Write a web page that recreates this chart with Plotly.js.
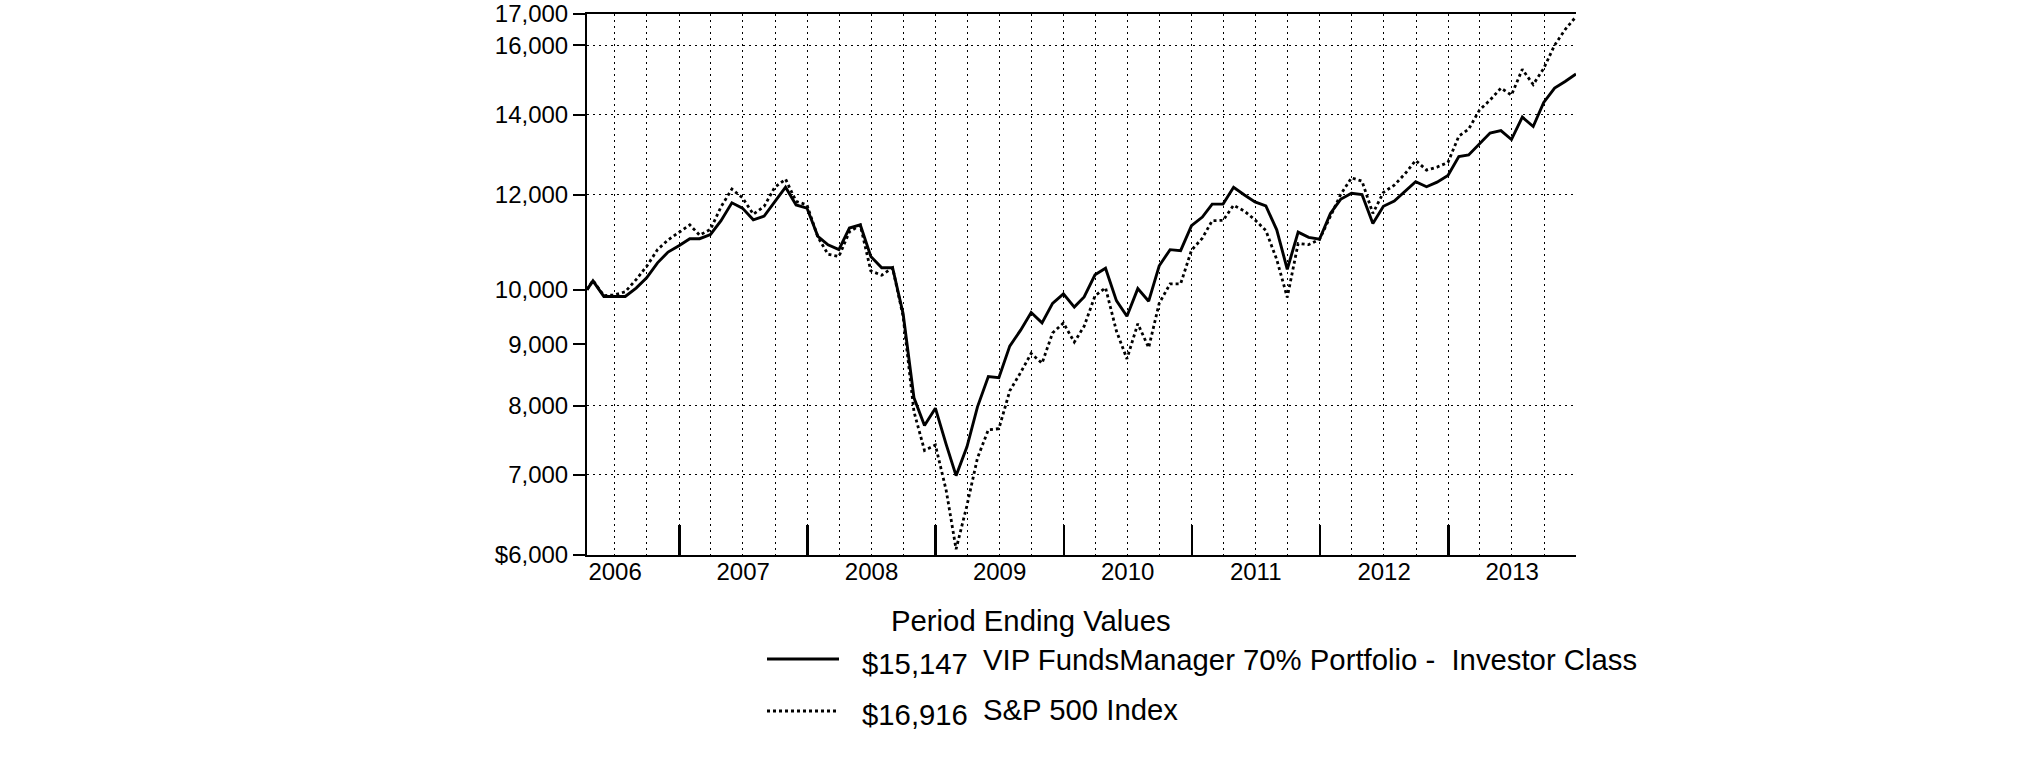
<!DOCTYPE html>
<html><head><meta charset="utf-8">
<script src="https://cdn.plot.ly/plotly-3.0.1.min.js"></script>
<style>html,body{margin:0;padding:0;background:#fff;} #chart{width:2025px;height:761px;}</style>
</head><body><div id="chart"></div>
<script>
// Period end dates (inception 2006-04-13, then month ends)
const dates = [
 '2006-04-13','2006-04-30','2006-05-31','2006-06-30','2006-07-31','2006-08-31','2006-09-30','2006-10-31','2006-11-30','2006-12-31',
 '2007-01-31','2007-02-28','2007-03-31','2007-04-30','2007-05-31','2007-06-30','2007-07-31','2007-08-31','2007-09-30','2007-10-31','2007-11-30','2007-12-31',
 '2008-01-31','2008-02-29','2008-03-31','2008-04-30','2008-05-31','2008-06-30','2008-07-31','2008-08-31','2008-09-30','2008-10-31','2008-11-30','2008-12-31',
 '2009-01-31','2009-02-28','2009-03-31','2009-04-30','2009-05-31','2009-06-30','2009-07-31','2009-08-31','2009-09-30','2009-10-31','2009-11-30','2009-12-31',
 '2010-01-31','2010-02-28','2010-03-31','2010-04-30','2010-05-31','2010-06-30','2010-07-31','2010-08-31','2010-09-30','2010-10-31','2010-11-30','2010-12-31',
 '2011-01-31','2011-02-28','2011-03-31','2011-04-30','2011-05-31','2011-06-30','2011-07-31','2011-08-31','2011-09-30','2011-10-31','2011-11-30','2011-12-31',
 '2012-01-31','2012-02-29','2012-03-31','2012-04-30','2012-05-31','2012-06-30','2012-07-31','2012-08-31','2012-09-30','2012-10-31','2012-11-30','2012-12-31',
 '2013-01-31','2013-02-28','2013-03-31','2013-04-30','2013-05-31','2013-06-30','2013-07-31','2013-08-31','2013-09-30','2013-10-31','2013-11-30','2013-12-31'
];
// VIP FundsManager 70% Portfolio - Investor Class
const fundValues = [
 10000, 10170, 9870, 9870, 9870, 10030, 10230, 10530, 10750, 10880,
 11030, 11030, 11120, 11420, 11820, 11700, 11440, 11520, 11850, 12180, 11770, 11700,
 11080, 10900, 10800, 11260, 11330, 10660, 10430, 10430, 9550, 8120, 7700, 7960,
 7420, 6990, 7390, 7980, 8460, 8440, 8970, 9250, 9570, 9380, 9740, 9920,
 9670, 9860, 10290, 10420, 9790, 9500, 10020, 9780, 10470, 10800, 10780, 11310,
 11500, 11790, 11790, 12180, 12000, 11840, 11750, 11220, 10400, 11170, 11060, 11020,
 11580, 11900, 12040, 12010, 11360, 11740, 11860, 12080, 12310, 12190, 12300, 12460,
 12920, 12960, 13240, 13520, 13580, 13350, 13940, 13690, 14340, 14740, 14930, 15147
];
// S&P 500 Index
const spValues = [
 10000, 10177, 9884, 9898, 9959, 10196, 10459, 10800, 11005, 11159,
 11328, 11106, 11230, 11728, 12137, 11935, 11565, 11738, 12177, 12370, 11853, 11771,
 11065, 10705, 10659, 11178, 11323, 10368, 10281, 10430, 9501, 7906, 7338, 7416,
 6791, 6068, 6600, 7232, 7636, 7651, 8229, 8526, 8844, 8679, 9200, 9377,
 9039, 9319, 9881, 10037, 9235, 8752, 9365, 8943, 9741, 10111, 10112, 10787,
 11042, 11421, 11426, 11764, 11631, 11437, 11205, 10597, 9852, 10929, 10905, 11016,
 11509, 12006, 12401, 12323, 11582, 12059, 12227, 12502, 12824, 12587, 12660, 12775,
 13437, 13620, 14131, 14404, 14741, 14544, 15284, 14841, 15307, 16011, 16499, 16916
];
const seriesNames = ['VIP FundsManager 70% Portfolio -  Investor Class', 'S&P 500 Index'];
const endingValues = ['$15,147', '$16,916'];
const legendTitle = 'Period Ending Values';
const yearLabels = ['2006','2007','2008','2009','2010','2011','2012','2013'];
const yearMidDates = ['2006-07-02','2007-07-02','2008-07-02','2009-07-02','2010-07-02','2011-07-02','2012-07-02','2013-07-02'];
const yearStartDates = ['2007-01-01','2008-01-01','2009-01-01','2010-01-01','2011-01-01','2012-01-01','2013-01-01'];
const yTickVals = [6000, 7000, 8000, 9000, 10000, 12000, 14000, 16000, 17000];
const yTickText = ['$6,000','7,000','8,000','9,000','10,000','12,000','14,000','16,000','17,000'];
const yGridVals = [7000, 8000, 12000, 14000, 16000];

const FONT = 'Liberation Sans, Arial, Helvetica, sans-serif';
const xRange = [dates[0], dates[dates.length - 1]];
const yRange = [Math.log10(6000), Math.log10(17000)];
const GRID_DASH = '2px,4px';

const traces = [
  {x: dates, y: spValues, type: 'scatter', mode: 'lines', name: seriesNames[1],
   line: {color: 'black', width: 2.8, dash: 'dot'}, hoverinfo: 'skip'},
  {x: dates, y: fundValues, type: 'scatter', mode: 'lines', name: seriesNames[0],
   line: {color: 'black', width: 2.9}, hoverinfo: 'skip'},
  // empty helper traces so the overlay axes (year labels, year ticks, grid) get drawn
  {x: yearMidDates, y: yearMidDates.map(() => null), xaxis: 'x2', yaxis: 'y', type: 'scatter', mode: 'lines', hoverinfo: 'skip', showlegend: false},
  {x: yearStartDates, y: yearStartDates.map(() => null), xaxis: 'x3', yaxis: 'y', type: 'scatter', mode: 'lines', hoverinfo: 'skip', showlegend: false},
  {x: [dates[0]], y: [null], xaxis: 'x', yaxis: 'y2', type: 'scatter', mode: 'lines', hoverinfo: 'skip', showlegend: false}
];

// plot area geometry helpers for legend placement (paper coords)
const L = 587, W = 989, T = 14, H = 541;
const px = v => (v - L) / W;
const py = v => (T + H - v) / H;
const LEG = 29.3;

const layout = {
  width: 2025, height: 761,
  margin: {l: L, r: 2025 - L - W, t: T, b: 761 - T - H, pad: 0},
  paper_bgcolor: 'white', plot_bgcolor: 'white',
  showlegend: false,
  font: {family: FONT, size: 24, color: 'black'},
  xaxis: {type: 'date', range: xRange, tickmode: 'linear', tick0: '2006-01-01', dtick: 'M3',
    showticklabels: false, ticks: '', showgrid: true, gridcolor: 'black', gridwidth: 1, griddash: GRID_DASH,
    showline: true, linecolor: 'black', linewidth: 2, mirror: true, zeroline: false, fixedrange: true},
  xaxis2: {type: 'date', overlaying: 'x', anchor: 'y', side: 'bottom', range: xRange,
    tickmode: 'array', tickvals: yearMidDates, ticktext: yearLabels, ticks: '',
    showgrid: false, showline: false, zeroline: false, tickfont: {family: FONT, size: 24, color: 'black'}},
  xaxis3: {type: 'date', overlaying: 'x', anchor: 'y', side: 'bottom', range: xRange,
    tickmode: 'array', tickvals: yearStartDates, ticks: 'inside', ticklen: 30, tickwidth: 2.5, tickcolor: 'black',
    showticklabels: false, showgrid: false, showline: false, zeroline: false},
  yaxis: {type: 'log', range: yRange, tickmode: 'array', tickvals: yTickVals, ticktext: yTickText,
    ticks: 'outside', ticklen: 12, tickwidth: 2, tickcolor: 'black', ticklabelstandoff: 0,
    showgrid: false, showline: true, linecolor: 'black', linewidth: 2, zeroline: false,
    tickfont: {family: FONT, size: 24, color: 'black'}},
  yaxis2: {type: 'log', overlaying: 'y', anchor: 'x', range: yRange, tickmode: 'array', tickvals: yGridVals,
    showticklabels: false, ticks: '', showgrid: true, gridcolor: 'black', gridwidth: 1, griddash: GRID_DASH,
    showline: false, zeroline: false},
  annotations: [
    {xref: 'paper', yref: 'paper', x: px(889), y: py(620), xanchor: 'left', yanchor: 'middle',
     text: legendTitle, showarrow: false, font: {family: FONT, size: LEG, color: 'black'}},
    {xref: 'paper', yref: 'paper', x: px(860), y: py(663), xanchor: 'left', yanchor: 'middle',
     text: endingValues[0], showarrow: false, font: {family: FONT, size: LEG, color: 'black'}},
    {xref: 'paper', yref: 'paper', x: px(981), y: py(659), xanchor: 'left', yanchor: 'middle',
     text: seriesNames[0], showarrow: false, font: {family: FONT, size: LEG, color: 'black'}},
    {xref: 'paper', yref: 'paper', x: px(860), y: py(714), xanchor: 'left', yanchor: 'middle',
     text: endingValues[1], showarrow: false, font: {family: FONT, size: LEG, color: 'black'}},
    {xref: 'paper', yref: 'paper', x: px(981), y: py(709), xanchor: 'left', yanchor: 'middle',
     text: seriesNames[1], showarrow: false, font: {family: FONT, size: LEG, color: 'black'}}
  ],
  shapes: [
    {type: 'line', xref: 'paper', yref: 'paper', x0: px(767), x1: px(839), y0: py(659), y1: py(659),
     line: {color: 'black', width: 3}},
    {type: 'line', xref: 'paper', yref: 'paper', x0: px(767), x1: px(839), y0: py(711), y1: py(711),
     line: {color: 'black', width: 3, dash: 'dot'}}
  ]
};

Plotly.newPlot('chart', traces, layout, {staticPlot: true, displayModeBar: false});
</script>
</body></html>
